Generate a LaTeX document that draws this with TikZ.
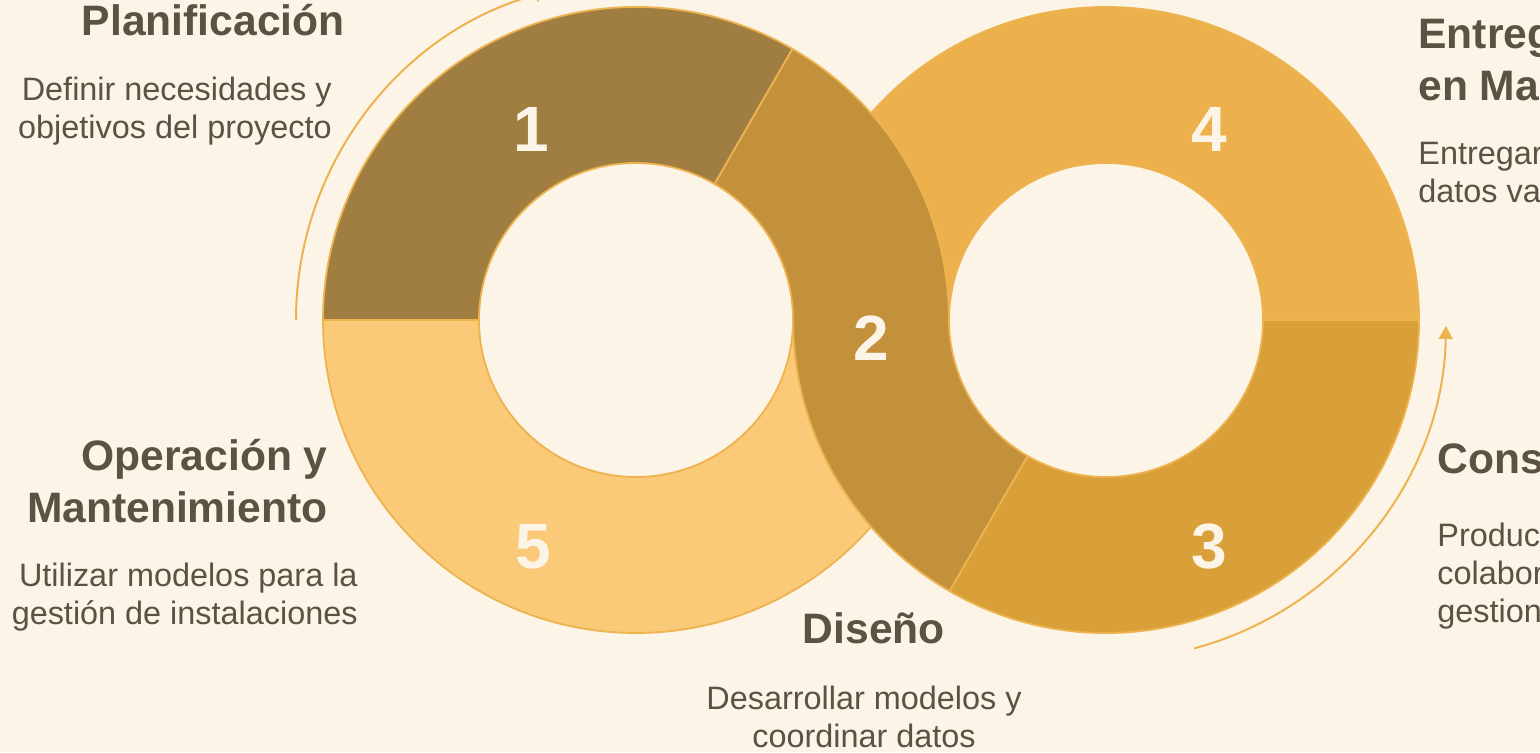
\documentclass[tikz,border=0pt]{standalone}
\usepackage{fontspec}
\setmainfont{Liberation Sans}
\usetikzlibrary{arrows.meta}
\definecolor{bgcream}{HTML}{FDF4E8}
\definecolor{rimorange}{HTML}{EDB34F}
\definecolor{inkbrown}{HTML}{5B5243}
\definecolor{segA}{HTML}{A07D41}
\definecolor{segB}{HTML}{C3903B}
\definecolor{segC}{HTML}{D9A03A}
\definecolor{segD}{HTML}{ECB14C}
\definecolor{segE}{HTML}{FBCA79}
\tikzset{
  >={Triangle[length=6.5pt,width=7pt]},
}
\tikzstyle{ringpart}=[draw=rimorange,line width=0.9pt,line join=round]
\tikzstyle{flowarc}=[rimorange,line width=1pt,->]
\tikzstyle{numlbl}=[text=bgcream,font=\fontsize{32}{32}\selectfont\bfseries,anchor=base]
\tikzstyle{headlbl}=[text=inkbrown,font=\fontsize{21.3}{26}\selectfont\bfseries,inner sep=0pt]
\tikzstyle{desclbl}=[text=inkbrown,font=\fontsize{16.2}{19}\selectfont,inner sep=0pt]

\begin{document}
\begin{tikzpicture}[x=0.5pt,y=0.5pt]
        \fill[bgcream] (0,0) rectangle (1540,752);
        \useasboundingbox (0,0) rectangle (1540,752);
        \clip (0,0) rectangle (1540,752);
        \coordinate (L) at (636,432);
        \coordinate (R) at (1106,432);
        \filldraw[ringpart,fill=segE] (L) ++(180:313) arc[start angle=180,end angle=360,radius=313] -- ++(0:-156) arc[start angle=360,end angle=180,radius=157] -- cycle;
        \filldraw[ringpart,fill=segD] (R) ++(0:313) arc[start angle=0,end angle=180,radius=313] -- ++(180:-156) arc[start angle=180,end angle=0,radius=157] -- cycle;
        \filldraw[ringpart,fill=segA] (L) ++(60:313) arc[start angle=60,end angle=180,radius=313] -- ++(180:-156) arc[start angle=180,end angle=60,radius=157] -- cycle;
        \filldraw[ringpart,fill=segC] (R) ++(240:313) arc[start angle=240,end angle=360,radius=313] -- ++(0:-156) arc[start angle=360,end angle=240,radius=157] -- cycle;
        \filldraw[ringpart,fill=segB] (L) ++(60:313) arc[start angle=60,end angle=0,radius=313] arc[start angle=180,end angle=240,radius=157] -- ++(240:156) arc[start angle=240,end angle=180,radius=313] arc[start angle=0,end angle=60,radius=157] -- cycle;
        \draw[flowarc] (L) ++(180:340) arc[start angle=180,end angle=105,radius=340];
        \draw[flowarc] (R) ++(-75:340) arc[start angle=-75,end angle=-1,radius=340];
        \node[numlbl] (n1) at (531,601) {1};
        \node[numlbl] (n2) at (871,392) {2};
        \node[numlbl] (n3) at (1209,184) {3};
        \node[numlbl] (n4) at (1209,601) {4};
        \node[numlbl] (n5) at (533,184) {5};
        \node[headlbl,anchor=base east] (plan) at (345,717) {Planificación};
        \node[desclbl,anchor=base east,align=right] (planTxt) at (332,614) {Definir necesidades y\\objetivos del proyecto};
        \node[headlbl,anchor=base east,align=right] (oper) at (328,230) {Operación y\\Mantenimiento};
        \node[desclbl,anchor=base east,align=right] (operTxt) at (358,128) {Utilizar modelos para la\\gestión de instalaciones};
        \node[headlbl,anchor=base] (dise) at (874,109) {Diseño};
        \node[desclbl,anchor=base,align=center] (diseTxt) at (864,5) {Desarrollar modelos y\\coordinar datos};
        \node[headlbl,anchor=base west,align=left] (entr) at (1418,652) {Entrega y Puesta\\en Marcha};
        \node[desclbl,anchor=base west,align=left] (entrTxt) at (1418,550) {Entregar modelos y\\datos validados};
        \node[headlbl,anchor=base west] (cons) at (1437,279) {Construcción};
        \node[desclbl,anchor=base west,align=left] (consTxt) at (1437,130) {Producir modelos,\\colaborar y\\gestionar cambios};
      \end{tikzpicture}
\end{document}
